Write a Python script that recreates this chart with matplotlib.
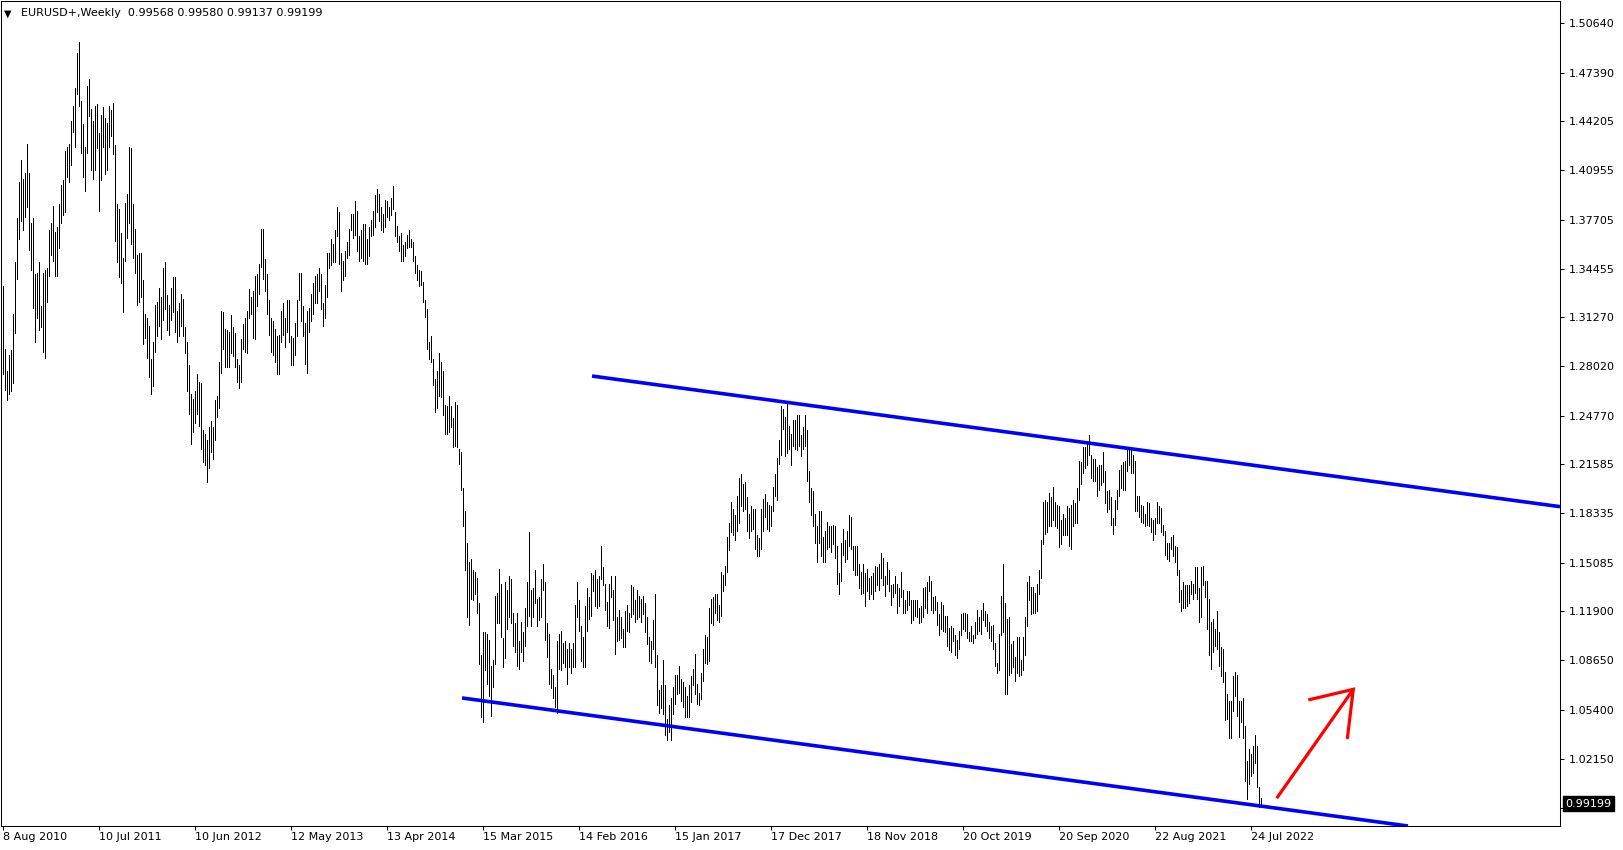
import numpy as np
import matplotlib
matplotlib.use("Agg")
import matplotlib.pyplot as plt
import matplotlib.transforms as mtransforms

titleText = "EURUSD+,Weekly  0.99568 0.99580 0.99137 0.99199"
lastPrice = 0.99199

dateLabels = ["8 Aug 2010", "10 Jul 2011", "10 Jun 2012", "12 May 2013", "13 Apr 2014",
              "15 Mar 2015", "14 Feb 2016", "15 Jan 2017", "17 Dec 2017", "18 Nov 2018",
              "20 Oct 2019", "20 Sep 2020", "22 Aug 2021", "24 Jul 2022"]
dateWeeks = [0, 48, 96, 144, 192, 240, 288, 336, 384, 432, 480, 528, 576, 624]

priceTicks = [1.50640, 1.47390, 1.44205, 1.40955, 1.37705, 1.34455, 1.31270, 1.28020,
              1.24770, 1.21585, 1.18335, 1.15085, 1.11900, 1.08650, 1.05400, 1.02150, 0.98900]

# weekly high / low, in 0.001 units, one bar per week starting 8 Aug 2010
weekHigh = [
    1333, 1292, 1277, 1288, 1291, 1315, 1349, 1378, 1402, 1416,
    1404, 1408, 1427, 1408, 1375, 1378, 1341, 1342, 1349, 1320,
    1342, 1344, 1345, 1370, 1375, 1386, 1369, 1372, 1387, 1400,
    1403, 1422, 1425, 1427, 1442, 1452, 1464, 1487, 1494, 1455,
    1440, 1425, 1465, 1470, 1450, 1442, 1452, 1453, 1434, 1446,
    1451, 1444, 1441, 1452, 1449, 1454, 1426, 1387, 1384, 1368,
    1352, 1388, 1394, 1425, 1424, 1387, 1371, 1354, 1355, 1355,
    1337, 1315, 1312, 1307, 1285, 1296, 1321, 1323, 1332, 1326,
    1345, 1349, 1327, 1321, 1332, 1339, 1339, 1317, 1322, 1328,
    1325, 1306, 1296, 1281, 1262, 1259, 1264, 1275, 1270, 1269,
    1238, 1236, 1232, 1240, 1244, 1240, 1258, 1261, 1283, 1317,
    1316, 1305, 1304, 1303, 1314, 1306, 1302, 1285, 1281, 1298,
    1308, 1312, 1317, 1331, 1326, 1330, 1340, 1341, 1348, 1371,
    1371, 1351, 1341, 1324, 1312, 1310, 1305, 1300, 1301, 1317,
    1322, 1312, 1324, 1324, 1300, 1299, 1309, 1324, 1342, 1342,
    1320, 1309, 1317, 1319, 1328, 1335, 1340, 1341, 1345, 1341,
    1322, 1334, 1355, 1355, 1364, 1361, 1370, 1385, 1382, 1355,
    1350, 1356, 1362, 1371, 1381, 1381, 1389, 1383, 1366, 1370,
    1374, 1374, 1364, 1372, 1377, 1383, 1393, 1397, 1394, 1385,
    1381, 1390, 1389, 1385, 1391, 1399, 1382, 1373, 1366, 1368,
    1360, 1362, 1367, 1370, 1364, 1362, 1353, 1347, 1344, 1343,
    1336, 1324, 1318, 1296, 1300, 1285, 1272, 1277, 1289, 1283,
    1277, 1255, 1254, 1261, 1254, 1246, 1257, 1255, 1226, 1224,
    1200, 1185, 1164, 1151, 1153, 1146, 1145, 1141, 1124, 1090,
    1105, 1105, 1104, 1100, 1083, 1087, 1129, 1131, 1147, 1137,
    1101, 1138, 1133, 1142, 1140, 1118, 1111, 1118, 1099, 1112,
    1105, 1121, 1138, 1171, 1133, 1134, 1146, 1127, 1128, 1140,
    1150, 1138, 1111, 1104, 1081, 1077, 1069, 1099, 1104, 1106,
    1098, 1099, 1094, 1098, 1094, 1098, 1123, 1138, 1126, 1109,
    1102, 1122, 1134, 1128, 1144, 1143, 1146, 1140, 1142, 1162,
    1148, 1137, 1125, 1137, 1142, 1133, 1142, 1115, 1120, 1115,
    1107, 1119, 1123, 1118, 1136, 1135, 1126, 1133, 1129, 1127,
    1129, 1124, 1115, 1102, 1099, 1113, 1130, 1090, 1067, 1070,
    1087, 1070, 1048, 1057, 1062, 1069, 1077, 1077, 1083, 1074,
    1072, 1069, 1063, 1070, 1076, 1081, 1091, 1071, 1065, 1078,
    1094, 1103, 1102, 1121, 1127, 1128, 1130, 1130, 1123, 1145,
    1143, 1149, 1168, 1177, 1191, 1186, 1182, 1195, 1207, 1209,
    1203, 1204, 1194, 1183, 1188, 1186, 1186, 1169, 1167, 1186,
    1193, 1196, 1191, 1189, 1188, 1201, 1209, 1220, 1232, 1254,
    1252, 1247, 1256, 1241, 1236, 1245, 1245, 1248, 1248, 1235,
    1240, 1248, 1238, 1211, 1200, 1198, 1183, 1175, 1185, 1185,
    1168, 1172, 1178, 1175, 1175, 1176, 1175, 1162, 1144, 1164,
    1173, 1166, 1172, 1182, 1181, 1162, 1162, 1162, 1150, 1145,
    1150, 1144, 1147, 1141, 1142, 1144, 1149, 1148, 1150, 1157,
    1154, 1142, 1151, 1146, 1136, 1137, 1142, 1137, 1134, 1145,
    1133, 1126, 1132, 1132, 1126, 1126, 1126, 1126, 1121, 1122,
    1134, 1135, 1138, 1142, 1139, 1128, 1129, 1125, 1117, 1125,
    1123, 1116, 1116, 1108, 1109, 1108, 1103, 1100, 1106, 1117,
    1118, 1118, 1117, 1105, 1109, 1103, 1112, 1120, 1115, 1120,
    1124, 1119, 1117, 1112, 1109, 1110, 1098, 1085, 1104, 1129,
    1150, 1124, 1114, 1115, 1097, 1099, 1089, 1102, 1102, 1087,
    1102, 1115, 1138, 1142, 1135, 1135, 1131, 1137, 1146, 1166,
    1191, 1192, 1191, 1197, 1194, 1201, 1191, 1189, 1188, 1179,
    1183, 1180, 1188, 1187, 1189, 1192, 1190, 1200, 1218, 1217,
    1227, 1227, 1231, 1235, 1222, 1219, 1219, 1214, 1215, 1215,
    1224, 1211, 1198, 1199, 1194, 1180, 1192, 1199, 1212, 1215,
    1217, 1218, 1225, 1227, 1225, 1222, 1218, 1195, 1195, 1189,
    1188, 1183, 1191, 1190, 1180, 1179, 1180, 1191, 1188, 1187,
    1176, 1172, 1164, 1164, 1168, 1169, 1162, 1161, 1146, 1133,
    1138, 1136, 1136, 1136, 1139, 1137, 1148, 1148, 1134, 1148,
    1149, 1139, 1139, 1127, 1112, 1114, 1107, 1119, 1105, 1095,
    1094, 1079, 1064, 1060, 1060, 1076, 1079, 1077, 1060, 1060,
    1062, 1043, 1020, 1028, 1025, 1030, 1037, 1030, 1003, 996,
]
weekLow = [
    1275, 1265, 1258, 1262, 1264, 1269, 1302, 1338, 1364, 1376,
    1370, 1379, 1385, 1357, 1344, 1319, 1296, 1312, 1304, 1306,
    1290, 1286, 1323, 1340, 1354, 1350, 1340, 1340, 1358, 1375,
    1380, 1382, 1405, 1402, 1413, 1435, 1425, 1460, 1452, 1421,
    1405, 1396, 1421, 1445, 1410, 1404, 1410, 1424, 1383, 1403,
    1425, 1407, 1410, 1425, 1432, 1420, 1363, 1349, 1339, 1335,
    1316, 1350, 1365, 1375, 1361, 1352, 1342, 1321, 1323, 1326,
    1295, 1299, 1286, 1273, 1262, 1267, 1290, 1300, 1307, 1298,
    1311, 1318, 1304, 1301, 1311, 1316, 1303, 1296, 1300, 1307,
    1300, 1289, 1264, 1249, 1229, 1237, 1243, 1249, 1241, 1226,
    1217, 1215, 1204, 1213, 1224, 1219, 1232, 1247, 1253, 1276,
    1292, 1280, 1280, 1280, 1289, 1287, 1280, 1270, 1266, 1270,
    1292, 1290, 1289, 1312, 1315, 1299, 1298, 1320, 1328, 1346,
    1338, 1330, 1315, 1301, 1290, 1288, 1283, 1275, 1275, 1296,
    1301, 1293, 1303, 1296, 1281, 1281, 1288, 1300, 1324, 1310,
    1300, 1282, 1276, 1303, 1310, 1315, 1322, 1322, 1330, 1318,
    1307, 1312, 1326, 1345, 1347, 1349, 1349, 1366, 1348, 1330,
    1337, 1340, 1352, 1354, 1370, 1365, 1367, 1356, 1350, 1352,
    1350, 1348, 1348, 1353, 1366, 1367, 1372, 1382, 1376, 1370,
    1369, 1372, 1379, 1377, 1380, 1384, 1366, 1362, 1356, 1350,
    1350, 1353, 1358, 1359, 1359, 1350, 1342, 1337, 1333, 1334,
    1323, 1313, 1292, 1285, 1283, 1268, 1250, 1253, 1261, 1260,
    1248, 1236, 1236, 1237, 1240, 1227, 1228, 1227, 1216, 1199,
    1175, 1146, 1115, 1110, 1127, 1126, 1130, 1118, 1084, 1049,
    1046, 1080, 1071, 1063, 1050, 1069, 1084, 1111, 1111, 1102,
    1082, 1088, 1107, 1115, 1111, 1096, 1092, 1083, 1081, 1092,
    1086, 1096, 1109, 1116, 1109, 1115, 1124, 1109, 1113, 1115,
    1133, 1100, 1089, 1071, 1068, 1062, 1056, 1052, 1081, 1080,
    1085, 1082, 1071, 1082, 1078, 1082, 1082, 1115, 1106, 1086,
    1082, 1082, 1106, 1114, 1116, 1132, 1122, 1121, 1122, 1140,
    1136, 1120, 1109, 1108, 1128, 1113, 1091, 1099, 1100, 1101,
    1095, 1095, 1106, 1105, 1115, 1117, 1112, 1114, 1115, 1112,
    1117, 1105, 1097, 1086, 1085, 1094, 1082, 1057, 1052, 1055,
    1051, 1037, 1034, 1039, 1034, 1051, 1058, 1064, 1065, 1060,
    1056, 1049, 1049, 1049, 1059, 1070, 1064, 1058, 1057, 1061,
    1073, 1085, 1084, 1086, 1111, 1110, 1118, 1113, 1112, 1116,
    1132, 1136, 1145, 1159, 1171, 1169, 1166, 1172, 1177, 1188,
    1185, 1186, 1172, 1167, 1172, 1173, 1160, 1155, 1155, 1160,
    1172, 1181, 1173, 1172, 1175, 1185, 1195, 1192, 1216, 1222,
    1239, 1221, 1223, 1226, 1215, 1228, 1226, 1225, 1228, 1221,
    1226, 1228, 1205, 1191, 1182, 1175, 1164, 1151, 1164, 1155,
    1151, 1151, 1160, 1161, 1158, 1163, 1154, 1137, 1130, 1139,
    1156, 1151, 1153, 1162, 1160, 1146, 1143, 1143, 1134, 1130,
    1131, 1122, 1132, 1127, 1130, 1127, 1132, 1136, 1133, 1141,
    1136, 1129, 1137, 1132, 1123, 1128, 1131, 1118, 1122, 1128,
    1118, 1118, 1120, 1123, 1111, 1113, 1116, 1115, 1111, 1112,
    1115, 1121, 1118, 1132, 1120, 1118, 1120, 1110, 1103, 1107,
    1106, 1105, 1096, 1093, 1092, 1099, 1090, 1088, 1094, 1103,
    1107, 1106, 1101, 1099, 1099, 1098, 1101, 1104, 1106, 1104,
    1113, 1109, 1106, 1101, 1099, 1094, 1083, 1078, 1080, 1103,
    1105, 1064, 1064, 1077, 1078, 1082, 1073, 1078, 1076, 1077,
    1080, 1090, 1109, 1126, 1117, 1118, 1118, 1119, 1130, 1141,
    1163, 1170, 1171, 1175, 1175, 1179, 1175, 1174, 1161, 1163,
    1169, 1169, 1169, 1162, 1160, 1175, 1177, 1177, 1192, 1203,
    1210, 1213, 1215, 1222, 1207, 1205, 1205, 1195, 1199, 1202,
    1204, 1190, 1184, 1186, 1176, 1170, 1176, 1186, 1195, 1200,
    1199, 1199, 1211, 1215, 1210, 1210, 1185, 1185, 1181, 1178,
    1177, 1175, 1176, 1175, 1171, 1166, 1170, 1177, 1177, 1171,
    1169, 1156, 1153, 1152, 1160, 1155, 1151, 1143, 1125, 1119,
    1121, 1121, 1122, 1124, 1130, 1127, 1131, 1127, 1112, 1115,
    1136, 1128, 1107, 1090, 1081, 1092, 1096, 1094, 1083, 1076,
    1072, 1047, 1048, 1035, 1035, 1053, 1063, 1050, 1036, 1046,
    1035, 1007, 995, 1005, 1010, 1012, 1019, 1003, 990, 991,
]

# hand-drawn objects on the chart, (week, price)
channelTop = [(294.25, 1.2739), (778.25, 1.1878)]
channelBottom = [(229.25, 1.0617), (702.25, 0.9773)]
arrowShaft = [(636.6, 0.9956), (674.9, 1.0674)]
arrowHead = [(652.4, 1.0604), (674.9, 1.0674), (671.9, 1.0347)]


def drawLine(ax, pts, color, width):
    xs = [p[0] for p in pts]
    ys = [p[1] for p in pts]
    ax.plot(xs, ys, color=color, linewidth=width, solid_capstyle="butt",
            solid_joinstyle="miter", zorder=4)


def plot():
    plt.rcParams["font.family"] = ["DejaVu Sans"]
    hi = np.array(weekHigh) / 1000.0
    lo = np.array(weekLow) / 1000.0
    n = min(len(hi), len(lo))
    weeks = np.arange(n)

    fig = plt.figure(figsize=(16.24, 8.5), dpi=100)
    ax = fig.add_axes([1 / 1624, 24 / 850, 1559 / 1624, 825 / 850])

    # thin 1px bars, no smoothing, like the terminal draws them
    ax.vlines(weeks, lo[:n], hi[:n], colors="black", linewidth=0.5,
              antialiased=False, zorder=3)

    drawLine(ax, channelTop, "#0000ff", 2.6)
    drawLine(ax, channelBottom, "#0000ff", 2.6)
    drawLine(ax, arrowShaft, "#ff0000", 2.3)
    drawLine(ax, arrowHead, "#ff0000", 2.3)

    ax.set_xlim(-1.25, 778.25)
    ax.set_ylim(0.9773, 1.5211)

    for s in ax.spines.values():
        s.set_linewidth(0.75)
        s.set_color("black")

    ax.yaxis.tick_right()
    ax.set_yticks(priceTicks)
    ax.set_yticklabels(["%.5f" % v for v in priceTicks])
    ax.tick_params(axis="y", direction="out", length=3, width=0.75,
                   labelsize=8, pad=3, colors="black")

    ax.set_xticks(dateWeeks)
    ax.set_xticklabels(dateLabels, ha="left")
    ax.tick_params(axis="x", direction="out", length=3, width=0.75,
                   labelsize=8, pad=1.5, colors="black")

    # header with symbol and ohlc
    ax.text(0.0022, 0.985, "\u25bc", transform=ax.transAxes, fontsize=7,
            ha="left", va="center")
    ax.text(0.013, 0.985, titleText, transform=ax.transAxes, fontsize=8,
            ha="left", va="center")

    # current price box, drawn over the last tick label
    trans = mtransforms.blended_transform_factory(ax.transAxes, ax.transData)
    ax.text(1.0035, lastPrice, "%.5f" % lastPrice, transform=trans,
            fontsize=8, color="white", ha="left", va="center", clip_on=False,
            zorder=10,
            bbox=dict(boxstyle="square,pad=0.2", facecolor="black", edgecolor="black"))

    fig.savefig("out.png", dpi=100)


plot()
